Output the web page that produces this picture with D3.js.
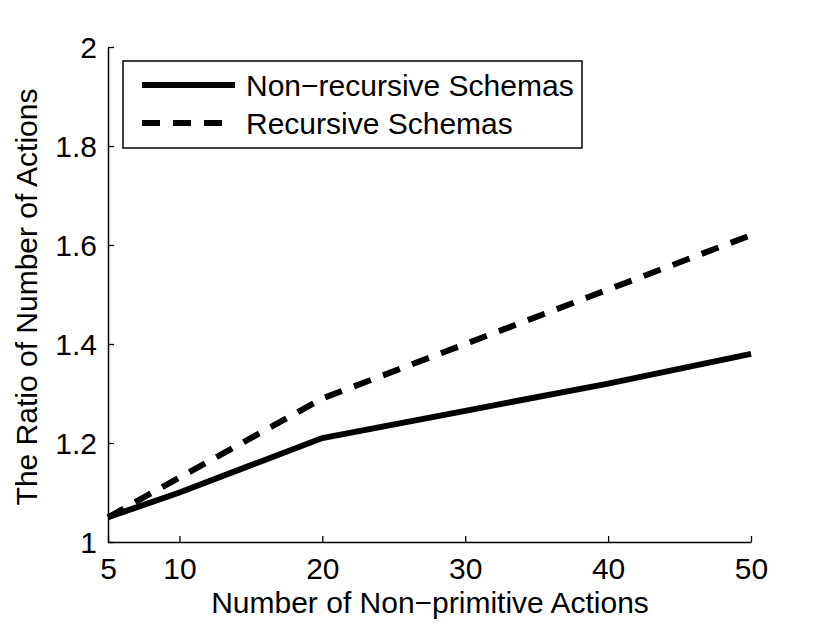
<!DOCTYPE html>
<html>
<head>
<meta charset="utf-8">
<script src="https://cdn.jsdelivr.net/npm/d3@7"></script>
<style>
  body { margin: 0; background: #fff; }
  text { font-family: "Liberation Sans", Arial, sans-serif; fill: #000; }
</style>
</head>
<body>
<svg id="chart" width="830" height="624"></svg>
<script>
// data
let actions = [5, 10, 20, 30, 40, 50];
let nonRecursive = [1.05, 1.10, 1.21, 1.265, 1.32, 1.38];
let recursive = [1.05, 1.13, 1.29, 1.40, 1.51, 1.62];
let xTicks = [5, 10, 20, 30, 40, 50];
let yTicks = [1, 1.2, 1.4, 1.6, 1.8, 2];
let seriesNames = ['Non\u2212recursive Schemas', 'Recursive Schemas'];

let fontSize = 30;
let svg = d3.select('#chart');

let x = d3.scaleLinear().domain([5, 50]).range([108, 751]);
let y = d3.scaleLinear().domain([1, 2]).range([542, 47]);

// axes, matlab style: ticks pointing inwards, no box
let xAxis = svg.append('g')
    .attr('transform', 'translate(0,542)')
    .call(d3.axisBottom(x).tickValues(xTicks).tickSizeInner(-6).tickSizeOuter(0).tickPadding(16));

let yAxis = svg.append('g')
    .attr('transform', 'translate(108,0)')
    .call(d3.axisLeft(y).tickValues(yTicks).tickSizeInner(-6).tickSizeOuter(0).tickPadding(11)
      .tickFormat(d3.format('~g')));

svg.selectAll('.domain').attr('stroke', '#000').attr('stroke-width', 1.5);
svg.selectAll('.tick line').attr('stroke', '#000').attr('stroke-width', 1.3);
svg.selectAll('.tick text').attr('font-size', fontSize).attr('font-family', '"Liberation Sans", Arial, sans-serif');
xAxis.selectAll('.tick text').attr('dy', '0.71em');
yAxis.selectAll('.tick text').attr('dy', '0.36em');

// axis titles
svg.append('text')
    .attr('x', 430)
    .attr('y', 613)
    .attr('text-anchor', 'middle')
    .attr('font-size', fontSize)
    .text('Number of Non\u2212primitive Actions');

svg.append('text')
    .attr('transform', 'translate(37,297) rotate(-90)')
    .attr('text-anchor', 'middle')
    .attr('font-size', fontSize)
    .text('The Ratio of Number of Actions');

// lines
let line = d3.line()
    .x((d, i) => x(actions[i]))
    .y(d => y(d));

svg.append('path')
    .datum(nonRecursive)
    .attr('d', line)
    .attr('fill', 'none')
    .attr('stroke', '#000')
    .attr('stroke-width', 6);

svg.append('path')
    .datum(recursive)
    .attr('d', line)
    .attr('fill', 'none')
    .attr('stroke', '#000')
    .attr('stroke-width', 6)
    .attr('stroke-dasharray', '18,13');

// legend
let legend = svg.append('g');
legend.append('rect')
    .attr('x', 123).attr('y', 61)
    .attr('width', 459).attr('height', 87)
    .attr('fill', '#fff')
    .attr('stroke', '#000')
    .attr('stroke-width', 1.5);

seriesNames.forEach(function(name, i) {
  let ly = 85 + i * 38;
  legend.append('line')
      .attr('x1', 142).attr('x2', 235)
      .attr('y1', ly).attr('y2', ly)
      .attr('stroke', '#000')
      .attr('stroke-width', 6)
      .attr('stroke-dasharray', i === 1 ? '18,13' : null);
  legend.append('text')
      .attr('x', 246)
      .attr('y', ly + 11)
      .attr('font-size', fontSize)
      .text(name);
});
</script>
</body>
</html>
